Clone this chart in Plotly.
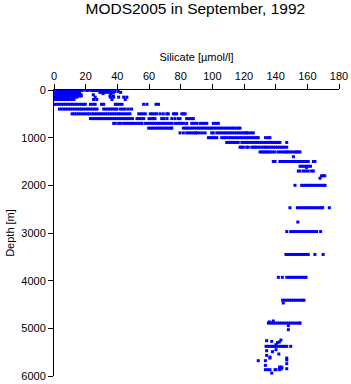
import plotly.graph_objects as go

si_0 = [0.3, 1.5, 2.7, 3.9, 5.1, 6.3, 7.5, 8.7, 9.9, 11.1, 12.3, 13.5, 14.7, 15.9, 17.1, 18.3,
        20, 21.5, 23, 24.5, 26, 27, 32.2, 33.8, 35.4]
si_10 = [0.5, 1.8, 3.1, 4.4, 5.7, 7, 8.3, 9.6, 10.9, 12.2, 13.5, 14.8, 16.1, 17.4,
         21, 24, 25.5, 27, 33, 34.5]
si_20 = [0.2, 1.6, 3, 4.4, 5.8, 7.2, 8.6, 10, 11.4, 12.8, 14.2, 15.6, 29, 30.5, 32, 33.5, 36]
si_30 = [0.6, 2, 3.4, 4.8, 6.2, 7.6, 9, 10.4, 11.8, 13.2, 14.6, 16, 33, 34.8, 36.6, 38.5, 40.6]
si_50 = [0.3, 1.7, 3.1, 4.5, 5.9, 7.3, 8.7, 10.1, 11.5, 12.9, 14.3, 15.7,
         29, 30.7, 32.4, 34.1, 35.8, 37.5, 42.1]
si_75 = [0.8, 2.2, 3.6, 5, 6.4, 7.8, 9.2, 10.6, 12, 13.4, 14.8, 16.2, 31, 36]
si_100 = [0.4, 1.8, 3.2, 4.6, 6, 7.4, 8.8, 10.2, 11.6, 13, 14.4, 15.8, 17.1, 24.8]
si_125 = [0.7, 2.1, 3.5, 4.9, 6.3, 7.7, 9.1, 10.5, 11.9, 13.3, 14.7, 16.1, 17.2, 35.4, 37.5]
si_150 = [0.4, 1.8, 3.2, 4.6, 6, 7.4, 8.8, 9.3, 11.4, 12.9, 14.5, 26, 35.6, 37.7, 40.8, 44, 46]
si_200 = [0.4, 1.8, 3.2, 4.6, 6, 7.4, 8.8, 10.2, 11.6, 12.6, 25, 27, 36.6, 45]
si_300 = [0.4, 1.8, 3.2, 4.6, 6, 7.4, 8.8, 10.2, 11.6, 13, 14.4, 15.8, 17.2, 18.6, 19.8,
          23, 24.5, 26, 30, 31.4, 38.7, 40.1, 41.5, 43, 56.6, 58.7, 64.4, 66]
si_400 = [3.4, 4.8, 6.2, 7.6, 9, 10.4, 11.8, 13.2, 14.6, 16, 17.4, 18.8, 20.2, 21.6, 23, 24.4,
          25.8, 27.2, 31.4, 32.8, 34.2, 35.6, 37, 38.4, 39.8, 42, 43.5, 45, 47, 49]
si_500 = [11.4, 12.8, 14.2, 15.6, 17, 18.4, 19.8, 21.2, 22.6, 24, 25.4, 26.8, 28.2, 29.6, 31,
          32.4, 33.8, 35.2, 36.6, 38, 39.4, 40.8, 42, 43.5, 45, 46.5, 48, 53.5, 54.9, 56.3,
          57.7, 60.8, 62.2, 63.6, 64.9, 67, 69, 71.2, 72.2, 75.4, 76.5, 77.5, 80.7, 81.8, 82.8]
si_600 = [23, 24.4, 25.8, 27.2, 28.6, 30, 31.4, 32.8, 34.2, 35.6, 37, 38.4, 39.8, 41.2, 42.6,
          44, 45.4, 46.8, 48.2, 49.6, 52.4, 53.8, 55.2, 56.7, 60, 61.3, 62.6, 63.8, 68, 69.5,
          71.4, 74.4, 76.4, 78.5, 79.6, 83.8, 85.2, 86.6, 88]
si_700 = [37.7, 38.7, 40.8, 42, 44, 45.4, 46.8, 48.2, 49.6, 51, 52.4, 53.8, 55.2, 55.6, 57.7,
          59.1, 60.5, 61.9, 63.3, 64.7, 66.1, 67.5, 68.9, 70.3, 71.7, 73.1, 74.4, 76.4, 77.8,
          79.2, 80.6, 82, 83.8, 87, 88.5, 90.1, 92.2, 93.6, 95, 96.5, 100.6, 102.2, 103.8]
si_800 = [59.8, 61.2, 62.6, 64, 65.4, 66.8, 68.2, 69.6, 71, 72.4, 73.8, 74.4, 81.7, 83.1,
          84.5, 85.9, 87.3, 88.7, 90.1, 91.5, 92.9, 94.3, 95.7, 97.1, 98.5, 99.6, 101, 102.4,
          103.8, 105.2, 106.6, 108, 109.4, 110.8, 112.2, 113.6, 115, 116.4, 117.5]
si_900 = [79.6, 81.7, 83.8, 85.2, 86.6, 88, 89.4, 90.1, 91.8, 93.6, 95.4, 99.6, 100.6, 102.8,
          104.2, 105.6, 107, 108.4, 109.8, 111.2, 112.6, 114, 115.4, 116.8, 118.2, 119.6, 121,
          121.7, 122.7, 124.3, 125.9]
si_1000 = [97.5, 98.8, 100.1, 101.4, 102.8, 105.9, 107.3, 108.7, 110.1, 111.5, 112.9, 114.3,
           115.7, 117.1, 118.5, 119.9, 121.3, 122.7, 124.1, 125.5, 126.9, 128.3, 129, 133.6,
           135.4, 136.4]
si_1100 = [109.1, 110.2, 111.2, 112.2, 113.6, 115, 116.4, 118.6, 120, 121.4, 122.8, 124.2,
           125.6, 127, 128.4, 129.8, 131.2, 132.6, 134, 135.4, 136.8, 138.2, 138.5, 139.6,
           140.7, 141.7, 142.7, 147]
si_1200 = [117.5, 118.6, 119.6, 121.7, 122.7, 124.9, 126, 127, 128, 129.4, 130.8, 132.2, 133.3,
           134.3, 135.7, 137.1, 138.5, 139.9, 141.3, 142.7, 144.1, 145.5, 147]
si_1300 = [130.1, 131.2, 132.2, 133.3, 134.4, 135.4, 136.4, 138, 139.6, 141.7, 143.1, 144.5,
           145.9, 147, 148, 149.4, 150.8, 152.2, 153.3, 154.3, 155.4]
si_1400 = [151.2]
si_1500 = [138.5, 139.6, 142.7, 144.1, 145.5, 146.9, 148.3, 149.7, 151.1, 152.5, 153.9, 155.3,
           156.7, 158.1, 159.5, 160.6, 163.8, 164.8]
si_1600 = [155.4, 156.7, 158, 159.3, 160.6, 162]
si_1700 = [154.3, 155.4, 157.5, 159, 160.6, 162.7, 163.8]
si_1800 = [169, 170, 171]
si_1850 = [168]
si_2000 = [152.2, 156.4, 157.8, 159.2, 160.6, 162, 163.4, 164.8, 166.2, 167.6, 169, 170.1, 171.2]
si_2470 = [149, 153.7, 155.1, 156.5, 157.9, 159.3, 160.7, 162.1, 163.5, 164.9, 166.3, 167.7,
           169.1, 169.7, 173.9]
si_2770 = [154]
si_2970 = [147, 149.5, 150.9, 152.2, 153.3, 154.7, 156.1, 157.5, 158.9, 160.3, 161.7, 163.1,
           164.5, 165.9, 168.4]
si_3450 = [146.5, 147.9, 149.3, 150.7, 152.1, 153.5, 154.9, 156.3, 157.7, 159.1, 160.6, 164.8, 170]
si_3930 = [141.7, 144.2, 147, 148.6, 150, 151.4, 152.8, 154.2, 155.6, 157, 158.4, 159.2]
si_4410 = [144.4, 145.8, 147.2, 148.6, 150, 151.4, 152.8, 154.2, 155.6, 157, 157.9]
si_4890 = [135.4, 136.8, 138.2, 139.6, 141, 142.4, 143.8, 145.2, 146.6, 148, 149.4, 150.8,
           152.2, 153.6, 155, 155.4]

depth_levels = [0, 10, 20, 30, 50, 75, 100, 125, 150, 200, 300, 400, 500, 600, 700, 800, 900,
                1000, 1100, 1200, 1300, 1400, 1500, 1600, 1700, 1800, 1850, 2000, 2470, 2770,
                2970, 3450, 3930, 4410, 4890]
si_levels = [si_0, si_10, si_20, si_30, si_50, si_75, si_100, si_125, si_150, si_200, si_300,
             si_400, si_500, si_600, si_700, si_800, si_900, si_1000, si_1100, si_1200,
             si_1300, si_1400, si_1500, si_1600, si_1700, si_1800, si_1850, si_2000, si_2470,
             si_2770, si_2970, si_3450, si_3930, si_4410, si_4890]

# scattered individual observations (mostly deep)
extra_si = [138.5, 136, 148, 148, 144.8, 159.5,
            134.3, 137.5, 143.3, 141.1, 142.3, 140.2,
            133.9, 135.2, 136.5, 137.8, 139.1, 140.4, 141.7, 143, 144.3, 145.6, 147, 149.5,
            140.2, 134.3, 138, 142, 134.3, 136.4, 136.4, 147, 147, 129, 133.5, 147, 133.5,
            142.5, 143.5, 142.5, 143.5, 144, 142.5, 147, 133.5, 135, 136.4, 139.6, 140.2, 137.5]
extra_depth = [4846, 4865, 4944, 5028, 4468, 1624,
               5259, 5273, 5245, 5301, 5287, 5343,
               5378, 5378, 5378, 5378, 5378, 5378, 5378, 5378, 5378, 5378, 5378, 5378,
               5448, 5469, 5490, 5539, 5567, 5602, 5623, 5623, 5665, 5679, 5679, 5742, 5777,
               5812, 5812, 5847, 5847, 5830, 5868, 5847, 5868, 5868, 5868, 5868, 5868, 5938]

x_vals, y_vals = [], []
for d, row in zip(depth_levels, si_levels):
    x_vals.extend(row)
    y_vals.extend([d] * len(row))
x_vals.extend(extra_si)
y_vals.extend(extra_depth)

FONT = "Liberation Sans, Arial, Helvetica, sans-serif"

fig = go.Figure(go.Scatter(
    x=x_vals, y=y_vals, mode="markers",
    marker=dict(symbol="square", size=3, color="#0000FF", line=dict(width=0)),
    hoverinfo="skip", showlegend=False,
))

fig.update_layout(
    width=351, height=384, autosize=False,
    margin=dict(l=54, r=12, t=90, b=8, pad=0),
    paper_bgcolor="white", plot_bgcolor="white",
    template="none",
    font=dict(family=FONT, size=11, color="black"),
    title=dict(text="MODS2005 in September, 1992", x=0.5565, xanchor="center",
               y=1 - 8.5 / 384, yanchor="middle", yref="container",
               font=dict(family=FONT, size=15.5, color="black")),
    xaxis=dict(side="top", range=[0, 180], dtick=20, tick0=0,
               ticks="outside", ticklen=5, tickwidth=1, tickcolor="black",
               showline=True, linecolor="black", linewidth=1, mirror=False,
               showgrid=False, zeroline=False,
               tickfont=dict(family=FONT, size=11, color="black"),
               title=dict(text="Silicate [µmol/l]", standoff=5,
                          font=dict(family=FONT, size=11, color="black"))),
    yaxis=dict(range=[6000, 0], dtick=1000, tick0=0,
               ticks="outside", ticklen=5, tickwidth=1, tickcolor="black",
               showline=True, linecolor="black", linewidth=1, mirror=False,
               showgrid=False, zeroline=False,
               tickfont=dict(family=FONT, size=11, color="black"),
               title=dict(text="Depth [m]", standoff=4,
                          font=dict(family=FONT, size=11, color="black"))),
)

fig.write_html("out.html")
